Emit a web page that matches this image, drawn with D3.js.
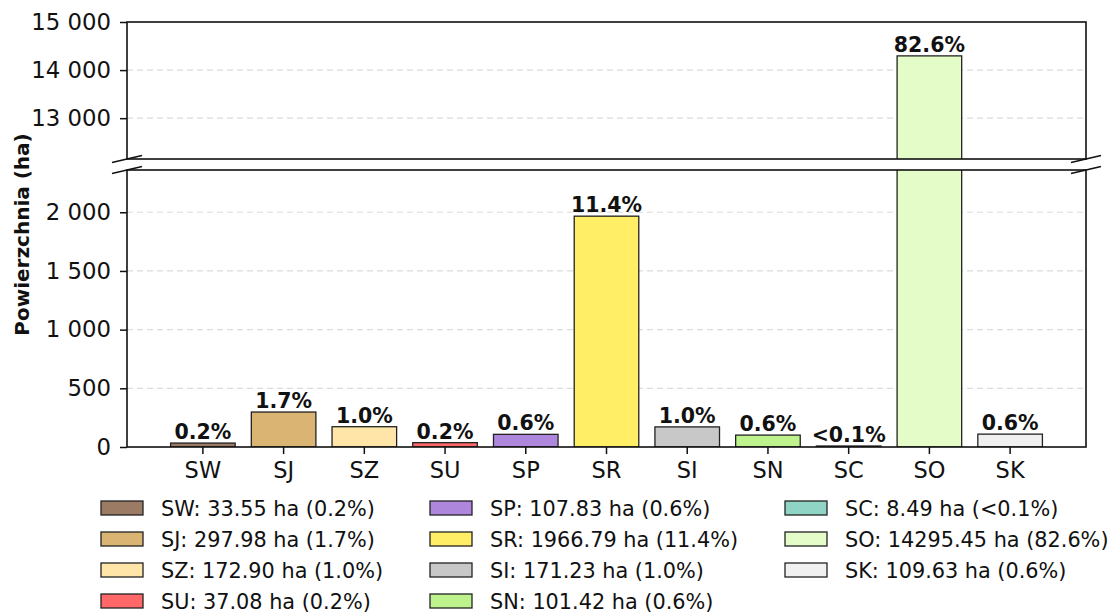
<!DOCTYPE html>
<html>
<head>
<meta charset="utf-8">
<script src="https://cdn.jsdelivr.net/npm/d3@7"></script>
<style>
  body { margin: 0; background: #fff; }
  svg, svg text { font-family: "DejaVu Sans", sans-serif; }
</style>
</head>
<body>
<div id="chart"></div>
<script>
// dane
const categories = ["SW", "SJ", "SZ", "SU", "SP", "SR", "SI", "SN", "SC", "SO", "SK"];
const areas = [33.55, 297.98, 172.90, 37.08, 107.83, 1966.79, 171.23, 101.42, 8.49, 14295.45, 109.63];
const shares = ["0.2%", "1.7%", "1.0%", "0.2%", "0.6%", "11.4%", "1.0%", "0.6%", "<0.1%", "82.6%", "0.6%"];
const colors = ["#9b7b63", "#d9b473", "#ffe6a8", "#ff6868", "#ae86dc", "#ffee66", "#c8c8c8", "#bdf28c", "#8fd4c4", "#e3fcc8", "#f0f0f0"];
const topTicks = [13000, 14000, 15000];
const bottomTicks = [0, 500, 1000, 1500, 2000];

const W = 1114, H = 612;
const left = 127, right = 1086;
const top1 = 22, bot1 = 159;   // górny panel
const top2 = 170, bot2 = 447;  // dolny panel

const fmt = d3.formatLocale({ decimal: ".", thousands: " ", grouping: [3] }).format(",d");

const svg = d3.select("#chart").append("svg")
  .attr("width", W).attr("height", H);

const x = d3.scaleBand()
  .domain(categories)
  .range([left, right])
  .paddingInner(0.2)
  .paddingOuter(0.54);

const yTop = d3.scaleLinear().domain([14295.45 * 0.85, 15000]).range([bot1, top1]);
const yBot = d3.scaleLinear().domain([0, 1966.79 * 1.2]).range([bot2, top2]);

const data = categories.map((c, i) => ({ c, v: areas[i], p: shares[i], col: colors[i] }));

function panel(y, y0, y1, ticks, id) {
  svg.append("clipPath").attr("id", id)
    .append("rect").attr("x", left).attr("y", y0).attr("width", right - left).attr("height", y1 - y0);

  // siatka
  svg.append("g").selectAll("line")
    .data(ticks.filter(t => y(t) > y0 + 1 && y(t) < y1 - 1))
    .enter().append("line")
    .attr("x1", left).attr("x2", right)
    .attr("y1", d => y(d)).attr("y2", d => y(d))
    .attr("stroke", "#dcdcdc").attr("stroke-width", 1.2)
    .attr("stroke-dasharray", "6,4");

  const g = svg.append("g").attr("clip-path", `url(#${id})`);
  g.selectAll("rect.bar")
    .data(data)
    .enter().append("rect")
    .attr("class", "bar")
    .attr("x", d => x(d.c))
    .attr("width", x.bandwidth())
    .attr("y", d => Math.max(y(d.v), y0 - 5))
    .attr("height", d => Math.max(0.8, Math.min(y(0), y1 + 5) - Math.max(y(d.v), y0 - 5)))
    .attr("fill", d => d.col)
    .attr("stroke", "#222").attr("stroke-width", 1.3);

  // etykiety procentowe
  svg.append("g").selectAll("text")
    .data(data.filter(d => y(d.v) > y0 && y(d.v) <= y1))
    .enter().append("text")
    .attr("x", d => x(d.c) + x.bandwidth() / 2)
    .attr("y", d => y(d.v) - 4)
    .attr("text-anchor", "middle")
    .style("font-size", "20.5px")
    .style("font-weight", "bold")
    .attr("fill", "#111")
    .text(d => d.p);

  const ax = svg.append("g")
    .attr("transform", `translate(${left},0)`)
    .call(d3.axisLeft(y).tickValues(ticks).tickFormat(fmt).tickSize(7).tickPadding(9));
  ax.attr("font-family", null).attr("font-size", null);
  ax.select(".domain").remove();
  ax.selectAll(".tick line").attr("stroke", "#111").attr("stroke-width", 1.5);
  ax.selectAll(".tick text").style("font-size", "22.8px").attr("fill", "#111");

  // ramka
  svg.append("rect")
    .attr("x", left).attr("y", y0).attr("width", right - left).attr("height", y1 - y0)
    .attr("fill", "none").attr("stroke", "#111").attr("stroke-width", 1.6);
}

panel(yTop, top1, bot1, topTicks, "clipTop");
panel(yBot, top2, bot2, bottomTicks, "clipBot");

// oś X
const xa = svg.append("g")
  .attr("transform", `translate(0,${bot2})`)
  .call(d3.axisBottom(x).tickSize(7).tickPadding(8));
xa.attr("font-family", null).attr("font-size", null);
xa.select(".domain").remove();
xa.selectAll(".tick line").attr("stroke", "#111").attr("stroke-width", 1.5);
xa.selectAll(".tick text").style("font-size", "22.5px").attr("fill", "#111");

// znaczniki przerwania osi
[left, right].forEach(px => {
  [bot1, top2].forEach(py => {
    svg.append("line")
      .attr("x1", px - 15).attr("y1", py + 3.5)
      .attr("x2", px + 15).attr("y2", py - 3.5)
      .attr("stroke", "#111").attr("stroke-width", 1.6);
  });
});

// etykieta osi Y
svg.append("text")
  .attr("transform", `translate(29,${(top1 + bot2) / 2}) rotate(-90)`)
  .attr("text-anchor", "middle")
  .style("font-size", "20px")
  .style("font-weight", "bold")
  .attr("fill", "#111")
  .text("Powierzchnia (ha)");

// legenda
const colX = [101, 430, 785];
const rowY = [508, 539, 570, 601];
const leg = svg.append("g").selectAll("g")
  .data(data)
  .enter().append("g")
  .attr("transform", (d, i) => `translate(${colX[Math.floor(i / 4)]},${rowY[i % 4]})`);
leg.append("rect")
  .attr("x", 0).attr("y", -7).attr("width", 42).attr("height", 14)
  .attr("fill", d => d.col).attr("stroke", "#222").attr("stroke-width", 1.3);
leg.append("text")
  .attr("x", 60).attr("y", 7.5)
  .style("font-size", "20.8px")
  .attr("fill", "#111")
  .text(d => `${d.c}: ${d.v.toFixed(2)} ha (${d.p})`);
</script>
</body>
</html>
